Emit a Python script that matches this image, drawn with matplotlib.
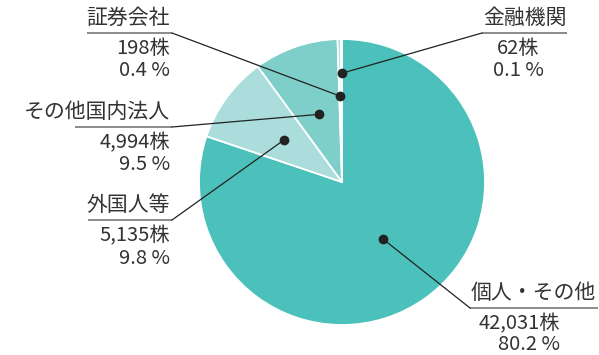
import matplotlib.pyplot as plt
import numpy as np

plt.rcParams['font.family'] = ['Noto Sans CJK JP', 'DejaVu Sans']

# datos
nombres = ["個人・その他", "外国人等", "その他国内法人", "証券会社", "金融機関"]
acciones = [42031, 5135, 4994, 198, 62]
porcentajes = ["80.2", "9.8", "9.5", "0.4", "0.1"]
colores = ["#4cc1bb", "#aadddb", "#7ecfc9", "#aadddb", "#4cc1bb"]

W, H = 599, 355
fig = plt.figure(figsize=(W / 100, H / 100), dpi=100)
ax = fig.add_axes([0, 0, 1, 1])

cx, cy, r = 342, H - 182, 143
wedges, _ = ax.pie(acciones, colors=colores, startangle=90, counterclock=False,
                   center=(cx, cy), radius=r, frame=True,
                   wedgeprops=dict(edgecolor="white", linewidth=1.3))
ax.set_xlim(0, W)
ax.set_ylim(0, H)
ax.set_aspect("equal")
ax.axis("off")

# radio relativo del punto de cada rebanada
frac_punto = [0.49, 0.5, 0.5, 0.6, 0.76]
# etiqueta: (x subrayado ini, x fin, y subrayado, extremo linea x)
etiquetas = [
    (470, 598, 308, 470),
    (88, 172, 220, 172),
    (75, 172, 127, 172),
    (87, 172, 33, 172),
    (482, 567, 33, 482),
]

txt = "#333333"
fs_t = 15
fs_n = 14.5
for i, w in enumerate(wedges):
    ang = np.deg2rad((w.theta1 + w.theta2) / 2)
    px = cx + frac_punto[i] * r * np.cos(ang)
    py = cy + frac_punto[i] * r * np.sin(ang)
    x0, x1, yl, xe = etiquetas[i]
    yl = H - yl
    ax.plot([x0, x1], [yl, yl], color="#777777", lw=1.2, solid_capstyle="butt")
    ax.plot([xe, px], [yl, py], color="#222222", lw=0.9)
    ax.plot(px, py, "o", color="#222222", ms=6)

    linea2 = f"{acciones[i]:,}株"
    linea3 = f"{porcentajes[i]} %"
    paso = 22
    if i == 0:
        ax.text(x0 + 1, yl + 15, nombres[i], ha="left", va="center", fontsize=fs_t, color=txt)
        xn, ha = 560, "right"
        paso = 20
    elif i == 4:
        ax.text((x0 + x1) / 2, yl + 15, nombres[i], ha="center", va="center", fontsize=fs_t, color=txt)
        xn, ha = 518, "center"
    else:
        ax.text(x1 - 2, yl + 15, nombres[i], ha="right", va="center", fontsize=fs_t, color=txt)
        xn, ha = x1 - 2, "right"
    ax.text(xn, yl - 16, linea2, ha=ha, va="center", fontsize=fs_n, color=txt)
    ax.text(xn, yl - 16 - paso, linea3, ha=ha, va="center", fontsize=fs_n, color=txt)

fig.savefig("out.png", dpi=100)
